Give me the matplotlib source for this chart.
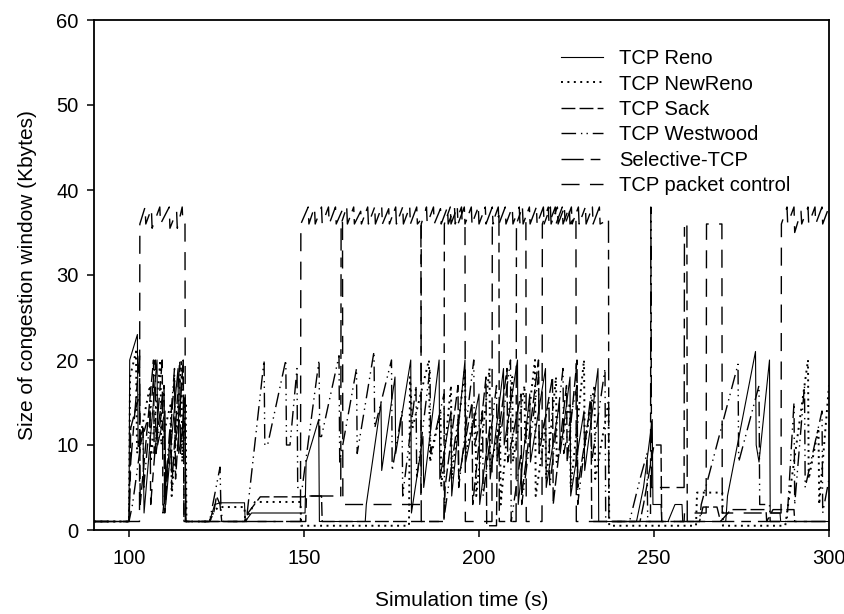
import matplotlib
matplotlib.use("Agg")
import matplotlib.pyplot as plt

plt.rcParams['font.family'] = ['Liberation Sans', 'DejaVu Sans']

# congestion window traces: (time s, window Kbytes) breakpoints
reno = [(90,1),(100,1),(100.2,20),(102.4,23),(102.6,10),(104,12),(104.3,2),(108,20),(108.2,10),
        (110.3,14),(110.5,3),(114,19),(114.2,9),(116,13),(116.3,1),(123,1),(124.5,3),(126,3.2),
        (133,3.2),(133.2,1),(135,2),(150.3,2),(150.6,8),(154.2,13),(154.4,1),(167.5,1),(167.8,3),
        (172,15),(172.2,7),(176,18),(176.2,9),(180.5,20),(180.7,2),(184,11),(184.2,5),(188.6,20),
        (188.8,6),(192,14),(192.2,4),(196,20),(196.2,8),(200,16),(200.2,3),(203,12),(203.2,6),
        (207,19),(207.2,10),(211,20),(211.2,3),(214.5,16),(214.7,8),(219,19),(219.2,5),(223,15),
        (223.2,9),(226,18),(226.2,4),(230,14),(230.2,7),(234,19),(234.2,1),(245,1),(247,5),
        (249.5,13),(249.7,3),(252,3),(252.2,1),(254,1),(256,3),(258,3),(258.2,1),(270.5,1),
        (271,4),(279,21),(279.2,10),(280,8),(283,20),(283.2,2),(286,2),(286.2,1),(300,1)]

newreno = [(90,1),(100,1),(100.3,18),(102,21),(102.3,9),(106,17),(106.2,8),(109,20),(109.2,10),
           (112,15),(112.2,4),(115,20),(115.2,8),(116.2,15),(116.4,1),(123,1),(124,2),(125.5,2.7),
           (133,2.7),(133.2,1),(136,3.3),(149,3.3),(149.2,0.5),(180,0.5),(180.3,18),(181,12),
           (185.7,20),(186,8),(189,14),(189.2,5),(192,17),(192.2,6),(196,19),(196.2,9),(199,14),
           (199.2,4),(203,19),(203.2,7),(206,13),(206.2,3),(209.5,18),(209.7,8),(213,17),(213.2,10),
           (216,20),(216.2,4),(219,12),(219.2,6),(222,18),(222.2,8),(226,15),(226.2,5),(230,20),
           (230.2,10),(233,17),(233.2,6),(237,15),(237.2,0.5),(262,0.5),(262.3,4.4),(269.5,4.4),
           (269.7,0.5),(287.5,0.5),(288,2),(294,20),(294.2,6),(297,12),(297.2,3),(300,17)]

sack = [(90,1),(100,1),(100.5,12),(103,16),(103.2,3),(107,20),(107.2,9),(110,17),(110.2,2),
        (113,18),(113.3,6),(115.5,20),(115.7,1),(123,1),(124.2,2),(125,4),(126,3),(126.5,1),
        (133,1),(134,2),(137.5,3.9),(150,3.9),(150.3,4),(155,4),(155.2,1),(190,1),(190.3,5),
        (194,17),(194.2,6),(198,15),(198.2,3),(202,18),(202.2,0.5),(205,0.5),(205.2,10),(208,19),
        (208.2,8),(212,16),(212.2,4),(217,20),(217.2,9),(221,18),(221.2,3),(225,17),(225.2,8),
        (228,20),(228.2,5),(232,15),(232.2,1),(246,1),(247,3),(250,10),(252,10),(252.2,1),
        (263,1),(264,2.7),(268,2.7),(269,1),(272,2.4),(282,2.4),(282.2,1),(284,2.4),(290,2.4),
        (290.2,1),(300,1)]

westwood = [(90,1),(100,1),(101,3),(104,12),(104.2,5),(107.5,20),(107.7,9),(110,16),(110.2,4),
            (113,19),(113.2,10),(115.5,18),(115.7,1),(123,1),(126,7.4),(126.3,2),(127,1),
            (133.5,1),(138.6,20),(138.8,10),(139.6,10),(144.8,20),(145,10),(146,10),(148,19),
            (148.2,5),(149.5,5),(154.3,20),(154.5,11),(155,11),(160,20.5),(160.2,8),(165,19),
            (165.2,9),(170,21),(170.2,12),(175,20),(175.2,7),(178,14),(178.2,4),(182,17),
            (182.2,6),(186,19),(186.2,9),(190,16),(190.2,2),(194,13),(194.2,5),(198.5,20),
            (198.7,10),(201,14),(201.2,4),(205,17),(205.2,8),(209,20),(209.2,1),(212,9),
            (212.2,3),(217,18),(217.2,10),(220,15),(220.2,5),(224,19),(224.2,9),(228,17),
            (228.2,3),(232,16),(232.2,8),(236,19),(236.2,1),(243,1),(246,6),(248,9),(248.2,1),
            (263,1),(263.5,3),(274,19.5),(274.2,8),(280,17),(280.2,3),(283,3),(283.2,1),(288,1),
            (290,15),(290.2,3),(293,17),(293.2,5),(298,14),(298.2,2),(300,6)]

selective = [(90,1),(100,1),(100.5,8),(103,20.5),(103.2,10),(106,14),(106.2,3),(109.5,20),
             (109.7,2),(112,12),(112.2,5),(114.5,20),(114.7,9),(116,16),(116.2,1),(150.5,1),
             (150.7,4),(160.5,4),(160.6,36),(162.2,38),(162.4,36),(164.2,38),(164.4,36),
             (166.2,37.5),(166.4,36),(168.2,38),(168.4,36),(170.2,38),(170.4,36),(172.2,38),
             (172.4,36),(174.2,37.8),(174.4,36),(176.2,38),(176.4,36),(178.2,38),(178.4,36),
             (180.2,38),(180.4,36),(182.2,38),(182.4,36),(183.4,36.5),(183.5,1),(190,1),
             (190.1,36),(191.8,38),(192,36),(193.8,38),(194,36),(195.8,38),(196,36),(197.8,38),
             (198,36),(199.8,38),(200,36),(201.8,38),(202,36),(203.8,38),(204,36),(205.7,37),
             (205.8,1),(210.6,1),(210.7,36),(212.4,38),(212.6,36),(214.4,38),(214.6,36),
             (216.4,38),(216.6,36),(218.4,38),(218.6,36),(220.4,38),(220.6,36),(222.4,38),
             (222.6,36),(224.4,38),(224.6,36),(226.4,38),(226.6,36),(228.4,38),(228.6,36),
             (230.4,38),(230.6,36),(232.4,38),(232.6,36),(234.4,38),(234.6,36),(237,36.5),
             (237.1,1),(249,1),(249.1,38),(249.3,5),(258.6,5),(258.7,36),(259.4,36),(259.5,1),
             (300,1)]

packet_control = [(90,1),(103,1),(103.1,36),(104.6,38),(104.8,36),(106.4,37.8),(106.6,35.5),
                  (108.8,38),(109,36),(111.5,38),(111.7,35.5),(113.6,37.5),(113.8,35.5),
                  (115.2,38),(115.4,36),(116,36),(116.1,1),(149,1),(149.1,36),(151.2,38),
                  (151.4,36),(153,38),(153.2,36),(155,38),(155.2,36),(157,38),(157.2,36),
                  (159,38),(159.2,36),(160.8,37.5),(161,36),(161.1,3),(183.4,3),(183.5,36),
                  (185,38),(185.2,36),(187,38),(187.2,36),(189,37.8),(189.2,36),(191,38),
                  (191.2,36),(193,38),(193.2,36),(195,38),(195.2,36),(196,36),(196.1,1),
                  (203.7,1),(203.8,36),(205.5,38),(205.7,36),(207.5,38),(207.7,36),(209.5,38),
                  (209.7,36),(211.5,38),(211.7,36),(213.4,36.5),(213.5,1),(218,1),(218.1,36),
                  (219.8,38),(220,36),(221.8,38),(222,36),(223.8,38),(224,36),(225.8,38),
                  (226,36),(227.7,37),(227.8,1),(258.6,1),(258.7,2),(264.9,2),(265,36),
                  (269.4,36),(269.5,2),(286.3,2),(286.4,36),(288,38),(288.2,36),(290,38),
                  (290.2,35),(292,37.5),(292.2,36),(294,38),(294.2,36),(296,38),(296.2,36),
                  (298,38),(298.2,36),(300,38)]

series_labels = ["TCP Reno", "TCP NewReno", "TCP Sack", "TCP Westwood",
                 "Selective-TCP", "TCP packet control"]
x_ticks = [100, 150, 200, 250, 300]
y_ticks = [0, 10, 20, 30, 40, 50, 60]

styles = [
    dict(linestyle='-', linewidth=0.8),
    dict(linestyle=(0, (1, 2.3)), linewidth=1.4),
    dict(linestyle=(0, (10, 3)), linewidth=1.0),
    dict(linestyle=(0, (10.5, 3.5, 1, 3, 1, 3.5)), linewidth=1.0),
    dict(linestyle=(0, (16, 5, 7, 5)), linewidth=1.0),
    dict(linestyle=(0, (13, 7.5)), linewidth=1.0),
]

fig = plt.figure(figsize=(8.45, 6.14), dpi=100)
ax = fig.add_axes([94 / 845, 1 - 530 / 614, 735 / 845, 510 / 614])

for pts, label, st in zip([reno, newreno, sack, westwood, selective, packet_control],
                          series_labels, styles):
    t, w = zip(*pts)
    ax.plot(t, w, color='black', label=label, **st)

ax.set_xlim(90, 300)
ax.set_ylim(0, 60)
ax.set_xticks(x_ticks)
ax.set_yticks(y_ticks)
ax.tick_params(direction='out', length=5, width=1.1, labelsize=14.5)
ax.tick_params(axis='x', pad=9)
ax.tick_params(axis='y', pad=6)
for sp in ax.spines.values():
    sp.set_linewidth(1.3)

ax.set_xlabel("Simulation time (s)", fontsize=15, labelpad=16)
ax.set_ylabel("Size of congestion window (Kbytes)", fontsize=15, labelpad=14)

ax.legend(loc='upper left', bbox_to_anchor=(0.635, 0.943), frameon=False,
          fontsize=14.5, handlelength=2.1, handletextpad=0.8, labelspacing=0.32,
          borderpad=0, borderaxespad=0)

fig.savefig("out.png", dpi=100)
